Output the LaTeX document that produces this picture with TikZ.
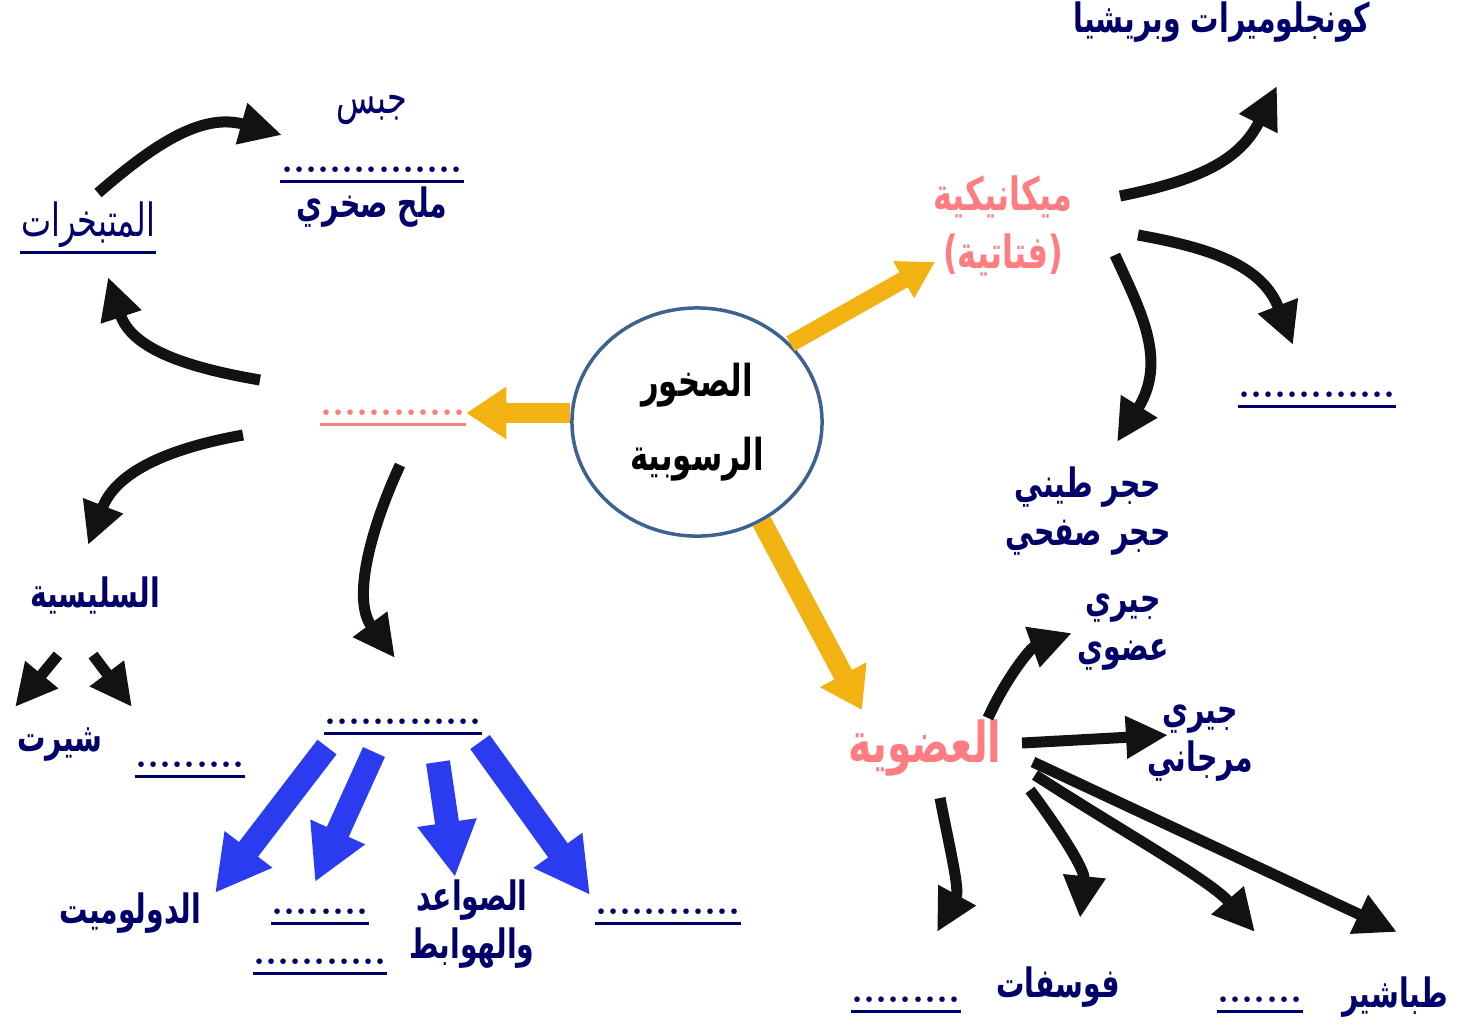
\documentclass[tikz,border=0pt]{standalone}
\usepackage{fontspec}
\usepackage{tikz}
\usetikzlibrary{arrows.meta,shapes.geometric,positioning}
\newfontfamily\arabicfont[Script=Arabic,FakeStretch=0.7]{DejaVu Sans}
\TeXXeTstate=1
\begin{document}
\begin{tikzpicture}[x=0.01cm,y=-0.01cm,
  word/.style={font=\arabicfont\bfseries\fontsize{11.5}{13.7}\selectfont,text=cnavy,align=center,inner sep=0pt},
  thinword/.style={word,font=\arabicfont\fontsize{13}{15}\selectfont},
  pinkword/.style={word,text=cpink,font=\arabicfont\bfseries\fontsize{13}{16.5}\selectfont},
  blank/.style={font=\bfseries\fontsize{11}{13}\selectfont,text=cnavy,inner sep=0pt},
  uline/.style={draw=cnavy,line width=0.035cm},
  blk/.style={-{Triangle[length=0.42cm,width=0.40cm]},line width=0.11cm,draw=cblk},
  goldarr/.style={-{Triangle[length=0.40cm,width=0.50cm]},line width=0.20cm,draw=cgold},
  bluearr/.style={-{Triangle[length=0.55cm,width=0.56cm]},line width=0.24cm,draw=cblue}]
%
\useasboundingbox (0,0) rectangle (1464,1020);
%
\definecolor{cnavy}{rgb}{0.0,0.0,0.42}
\definecolor{cpink}{rgb}{1.0,0.49,0.50}
\definecolor{cgold}{rgb}{0.95,0.70,0.07}
\definecolor{cblue}{rgb}{0.17,0.23,0.94}
\definecolor{cblk}{rgb}{0.07,0.07,0.07}
\definecolor{crim}{rgb}{0.24,0.38,0.57}
%
\node[ellipse,draw=crim,line width=0.035cm,minimum width=2.5cm,minimum height=2.28cm,inner sep=0pt,
  align=center,font=\arabicfont\bfseries\fontsize{12.5}{21}\selectfont] (rock) at (697,422)
  {\beginR الصخور\endR\\\beginR الرسوبية\endR};
%
\node[blank,text=cpink] (chem) at (393,413) {............};
\node[thinword] (evap) at (88,225) {\beginR المتبخرات\endR};
\node[thinword] (gyps) at (372,110) {\beginR جبس\endR};
\node[blank] (b1) at (372,170) {...............};
\node[word] (salt) at (372,207) {\beginR ملح صخري\endR};
\node[word] (sili) at (95,595) {\beginR السليسية\endR};
\node[word] (chert) at (60,745) {\beginR شيرت\endR};
\node[blank] (b2) at (190,765) {.........};
\node[blank] (b3) at (403,722) {.............};
\node[word] (dolo) at (130,913) {\beginR الدولوميت\endR};
\node[blank] (b4) at (320,912) {........};
\node[blank] (b5) at (320,962) {...........};
\node[word] (stal) at (472,924) {\beginR الصواعد\endR\\\beginR والهوابط\endR};
\node[blank] (b6) at (668,912) {............};
%
\node[pinkword] (mech) at (1003,226) {\beginR ميكانيكية\endR\\\beginR (فتاتية)\endR};
\node[word] (cong) at (1222,22) {\beginR كونجلوميرات وبريشيا\endR};
\node[blank] (b7) at (1317,395) {.............};
\node[word] (clay) at (1088,511) {\beginR حجر طيني\endR\\\beginR حجر صفحي\endR};
%
\node[pinkword,font=\arabicfont\bfseries\fontsize{16}{18}\selectfont] (orga) at (925,748) {\beginR العضوية\endR};
\node[word] (lime1) at (1123,632) {\beginR جيري\endR\\\beginR عضوي\endR};
\node[word] (lime2) at (1200,743) {\beginR جيري\endR\\\beginR مرجاني\endR};
\node[blank] (b8) at (906,1000) {.........};
\node[word] (phos) at (1058,987) {\beginR فوسفات\endR};
\node[blank] (b9) at (1260,1000) {.......};
\node[word] (chalk) at (1395,997) {\beginR طباشير\endR};
%
\draw[draw=cpink,line width=0.035cm] ([yshift=-0.08cm]chem.south west) -- ([yshift=-0.08cm]chem.south east);
\draw[uline] ([yshift=-0.04cm]evap.south west) -- ([yshift=-0.04cm]evap.south east);
\foreach \b in {b1,b2,b3,b4,b5,b6,b7,b8,b9}
  \draw[uline] ([yshift=-0.08cm]\b.south west) -- ([yshift=-0.08cm]\b.south east);
%
\draw[goldarr] (rock.west |- chem.east) -- (chem.east);
\draw[goldarr,line width=0.17cm,-{Triangle[length=0.36cm,width=0.40cm]}] (rock.40) -- (935,262) coordinate (mech0);
\draw[goldarr] (rock.-57) -- (862,710) coordinate (orga0);
%
\draw[blk] (98,193) .. controls (150,148) and (200,112) .. (282,135) coordinate (gyps0);
\draw[blk] (260,380) .. controls (190,368) and (132,350) .. (108,277) coordinate (evap0);
\draw[blk] (243,435) .. controls (160,450) and (115,475) .. (88,545) coordinate (sili0);
\draw[blk] (400,465) .. controls (370,530) and (352,600) .. (395,658) coordinate (b30);
\draw[blk] (58,655) -- (15,707) coordinate (chert0);
\draw[blk] (93,655) -- (132,707) coordinate (b20);
%
\draw[bluearr] (327,747) -- (215,893) coordinate (dolo0);
\draw[bluearr] (374,752) -- (315,882) coordinate (b40);
\draw[bluearr] (438,762) -- (455,877) coordinate (stal0);
\draw[bluearr] (480,742) -- (590,895) coordinate (b60);
%
\draw[blk] (1120,196) .. controls (1200,180) and (1240,160) .. (1277,86) coordinate (cong0);
\draw[blk] (1138,235) .. controls (1210,248) and (1262,265) .. (1293,345) coordinate (b70);
\draw[blk] (1115,255) .. controls (1140,310) and (1168,360) .. (1117,442) coordinate (clay0);
%
\draw[blk] (988,718) .. controls (1005,680) and (1030,648) .. (1072,633) coordinate (lime10);
\draw[blk] (1022,743) -- (1168,735) coordinate (lime20);
\draw[blk] (1033,762) -- (1397,932) coordinate (chalk0);
\draw[blk] (1035,775) .. controls (1120,830) and (1210,880) .. (1255,932) coordinate (b90);
\draw[blk] (1030,790) .. controls (1060,830) and (1085,870) .. (1080,918) coordinate (phos0);
\draw[blk] (940,798) .. controls (950,850) and (960,890) .. (937,932) coordinate (b80);
%
\end{tikzpicture}
\end{document}
